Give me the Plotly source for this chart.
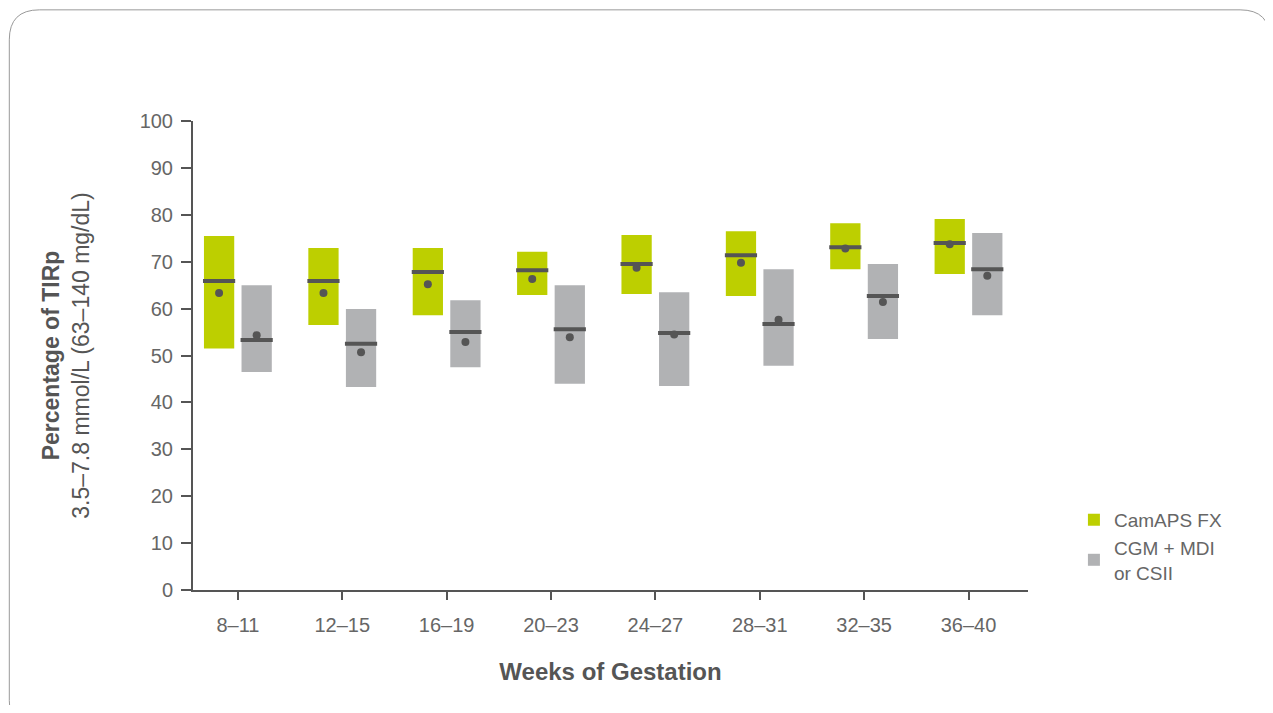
import plotly.graph_objects as go

weeks = ["8–11", "12–15", "16–19", "20–23", "24–27", "28–31", "32–35", "36–40"]

cam_low = [51.5, 56.5, 58.6, 62.9, 63.1, 62.7, 68.4, 67.4]
cam_high = [75.5, 72.9, 72.9, 72.1, 75.7, 76.5, 78.2, 79.1]
cam_median = [65.9, 65.9, 67.8, 68.2, 69.5, 71.4, 73.1, 74.0]
cam_mean = [63.3, 63.3, 65.2, 66.3, 68.7, 69.8, 72.8, 73.7]

cgm_low = [46.5, 43.3, 47.5, 44.0, 43.5, 47.8, 53.5, 58.6]
cgm_high = [65.0, 59.9, 61.8, 65.0, 63.5, 68.4, 69.5, 76.1]
cgm_median = [53.3, 52.5, 55.0, 55.6, 54.8, 56.7, 62.7, 68.4]
cgm_mean = [54.3, 50.7, 52.9, 53.9, 54.5, 57.6, 61.4, 67.0]

GREEN = "#bdcf00"
GREY = "#b1b2b4"
DARK = "#555555"
FONT = "Liberation Sans"

off, w = 0.18, 0.29
xc = list(range(len(weeks)))
x_cam = [i - off for i in xc]
x_cgm = [i + off for i in xc]

fig = go.Figure()
for name, xs, lo, hi, col in [("CamAPS FX", x_cam, cam_low, cam_high, GREEN),
                              ("CGM + MDI<br>or CSII", x_cgm, cgm_low, cgm_high, GREY)]:
    fig.add_trace(go.Bar(x=xs, y=[h - l for h, l in zip(hi, lo)], base=lo, width=w,
                         marker=dict(color=col, line=dict(width=0)), name=name))

for xs, med, mean in [(x_cam, cam_median, cam_mean), (x_cgm, cgm_median, cgm_mean)]:
    fig.add_trace(go.Scatter(x=xs, y=med, mode="markers", showlegend=False, hoverinfo="skip",
                             marker=dict(symbol="line-ew", size=23, line=dict(width=4, color=DARK))))
    fig.add_trace(go.Scatter(x=xs, y=mean, mode="markers", showlegend=False,
                             marker=dict(size=8, color=DARK)))

# rounded frame around the whole card
rx, ry = 0.036, 0.064
x0, x1, y0, y1 = -0.22, 1.29, -0.3, 1.237
frame = (f"M {x0+rx},{y1} L {x1-rx},{y1} Q {x1},{y1} {x1},{y1-ry} L {x1},{y0+ry} "
         f"Q {x1},{y0} {x1-rx},{y0} L {x0+rx},{y0} Q {x0},{y0} {x0},{y0+ry} "
         f"L {x0},{y1-ry} Q {x0},{y1} {x0+rx},{y1} Z")

fig.update_layout(
    width=1257, height=697,
    plot_bgcolor="white", paper_bgcolor="white",
    margin=dict(l=185, r=237, t=113, b=115),
    font=dict(family=FONT, color=DARK, size=19),
    barmode="overlay",
    legend=dict(x=1.055, y=0.19, xanchor="left", yanchor="top",
                font=dict(size=19, color="#666666"), itemwidth=30, tracegroupgap=8),
    xaxis=dict(range=[-0.43, 7.57], tickmode="array", tickvals=xc, ticktext=weeks,
               showline=True, linecolor=DARK, linewidth=2, ticks="outside", ticklen=8,
               tickcolor=DARK, tickwidth=2, showgrid=False, zeroline=False,
               ticklabelstandoff=8, tickfont=dict(size=20, color="#666666"),
               title=dict(text="<b>Weeks of Gestation</b>", font=dict(size=24, color=DARK), standoff=28)),
    yaxis=dict(range=[0, 100], dtick=10, showline=True, linecolor=DARK, linewidth=2,
               ticks="outside", ticklen=10, tickcolor=DARK, tickwidth=2, showgrid=False,
               zeroline=False, ticklabelstandoff=4, tickfont=dict(size=20, color="#666666"),
               title=dict(text="<b>Percentage of TIRp</b><br>3.5–7.8 mmol/L (63–140 mg/dL)",
                          font=dict(size=23, color=DARK), standoff=44)),
    shapes=[dict(type="path", xref="paper", yref="paper", path=frame,
                 line=dict(color="#999999", width=1))],
)

fig.write_html("out.html")
